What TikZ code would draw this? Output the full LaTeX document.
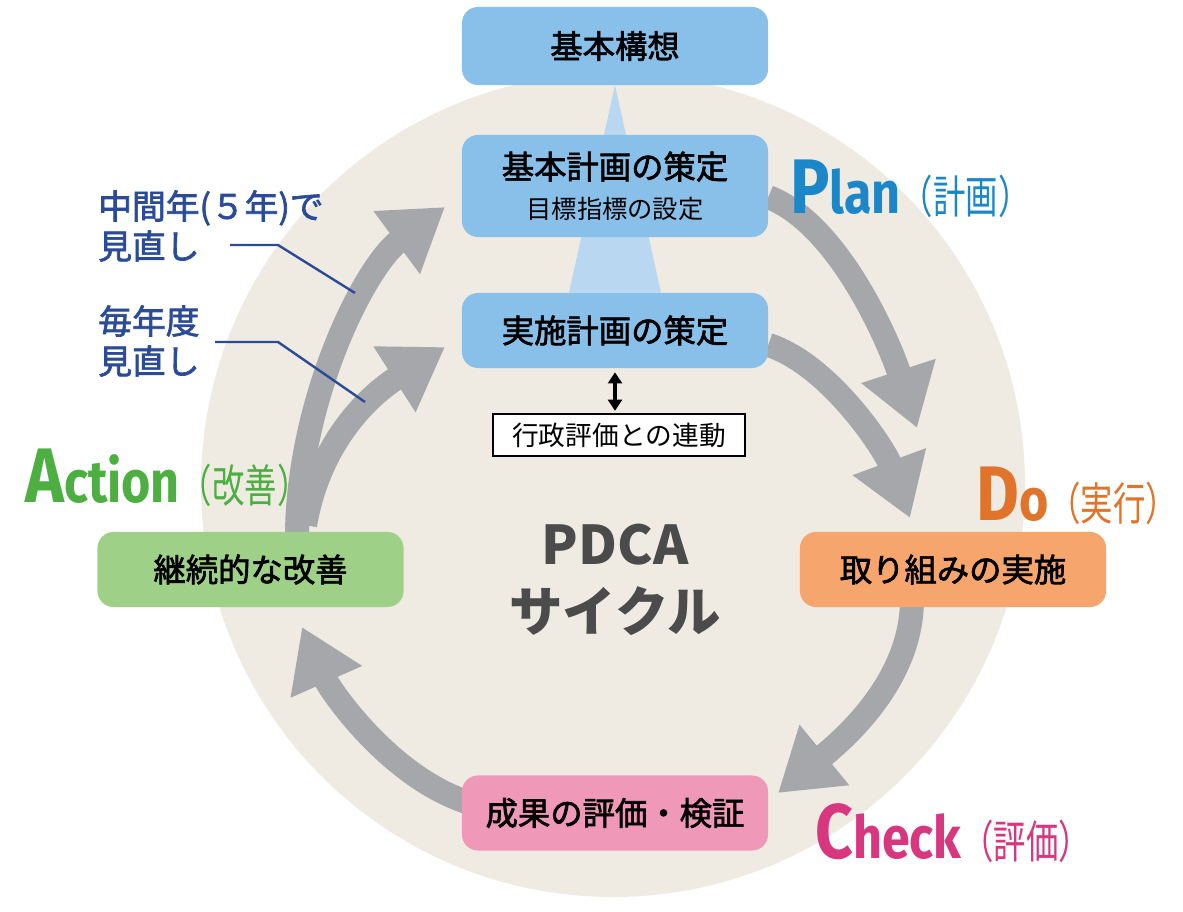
\documentclass[tikz,border=0pt]{standalone}
\usepackage{fontspec}
\usepackage{graphicx}
\setmainfont{Noto Sans CJK JP}
\newfontfamily\jpmed{Noto Sans CJK JP}[FakeBold=2]
\newfontfamily\firafont{Fira Sans}
\usetikzlibrary{arrows.meta}
\pgfdeclarelayer{bglayer}
\pgfdeclarelayer{edgelayer}
\pgfdeclarelayer{nodelayer}
\pgfsetlayers{bglayer,edgelayer,nodelayer,main}
\definecolor{bgbeige}{HTML}{EFEBE2}
\definecolor{boxblue}{HTML}{88C0EA}
\definecolor{paleblue}{HTML}{B9D7F1}
\definecolor{arrowgray}{HTML}{A5A7AA}
\definecolor{boxgreen}{HTML}{9FD088}
\definecolor{boxorange}{HTML}{F6A56C}
\definecolor{boxpink}{HTML}{F098B8}
\definecolor{plancol}{HTML}{1B87C9}
\definecolor{docol}{HTML}{E0742A}
\definecolor{checkcol}{HTML}{D8367F}
\definecolor{actcol}{HTML}{4DAE42}
\definecolor{notecol}{HTML}{2B4B99}
\definecolor{pdcacol}{HTML}{4B4B4B}
\newcommand{\stagelabel}[3]{%
    \scalebox{0.85}[1]{\firafont\bfseries\fontsize{55}{55}\selectfont #1\fontsize{42}{42}\selectfont #2}%
    \scalebox{0.72}[1]{\fontsize{32}{32}\selectfont （#3）}}
\tikzset{
    box/.style = {rounded corners=0.4cm, minimum width=7.65cm, minimum height=1.875cm,
        inner sep=0pt, align=center, font=\jpmed\fontsize{23}{28}\selectfont},
    linkbox/.style = {draw=black, line width=0.06cm, fill=white, minimum width=6.3cm,
        minimum height=1.05cm, inner sep=0pt, font=\fontsize{19}{22}\selectfont},
    cycarrow/.style = {draw=arrowgray, line width=0.6cm,
        -{Triangle[width=1.85cm,length=1.5cm]}},
    linkarrow/.style = {line width=0.1cm, shorten <=0.1cm, shorten >=0.05cm,
        {Triangle[width=0.35cm,length=0.28cm]}-{Triangle[width=0.35cm,length=0.28cm]}},
    note/.style = {anchor=west, align=left, inner sep=0pt, text=notecol,
        font=\jpmed\fontsize{24}{28.5}\selectfont},
    leader/.style = {draw=notecol, line width=0.06cm},
    stage/.style = {anchor=base west, inner sep=0pt}
}

\begin{document}
\begin{tikzpicture}[x=0.025cm,y=-0.025cm]
    \useasboundingbox (0,0) rectangle (1183,912);
    \begin{pgfonlayer}{nodelayer}
        \node [box, fill=boxblue, minimum height=1.95cm] (kousou) at (615,46) {基本構想};
        \node [box, fill=boxblue, minimum height=2.55cm] (kihon) at (615,186)
            {基本計画の策定\\[0pt]{\normalfont\fontsize{18}{22}\selectfont 目標指標の設定}};
        \node [box, fill=boxblue] (jisshi) at (615,330.5) {実施計画の策定};
        \node [linkbox] (renkei) at (619,435) {行政評価との連動};
        \node [box, fill=boxgreen] (kaizen) at (250.5,569.5) {継続的な改善};
        \node [box, fill=boxorange] (torikumi) at (953,569.5) {取り組みの実施};
        \node [box, fill=boxpink] (hyouka) at (615,813) {成果の評価・検証};
    \end{pgfonlayer}
    \coordinate (plantip) at (917,428);
    \coordinate (dotip) at (910,518);
    \coordinate (checktip) at (778,793);
    \coordinate (acttip) at (302,627);
    \coordinate (midtip) at (445,207);
    \coordinate (yeartip) at (445,347);
    \coordinate (branch) at (305,525);
    \begin{pgfonlayer}{edgelayer}
        \draw [cycarrow] ([yshift=-0.275cm]kihon.east) .. controls (840,225) and (890,345) .. (plantip);
        \draw [cycarrow] ([yshift=-0.36cm]jisshi.east) .. controls (830,365) and (885,450) .. (dotip);
        \draw [cycarrow] ([xshift=-1.025cm,yshift=0.2cm]torikumi.south) .. controls (912,680) and (845,738) .. (checktip);
        \draw [cycarrow] ([xshift=0.2cm,yshift=0.25cm]hyouka.west) .. controls (390,778) and (330,690) .. (acttip);
        \draw [cycarrow] ([xshift=1.16cm,yshift=-0.2cm]kaizen.north) .. controls (297,400) and (365,266) .. (midtip);
        \draw [cycarrow] (branch) .. controls (320,440) and (370,395) .. (yeartip);
        \draw [linkarrow] (jisshi.south) -- (jisshi.south |- renkei.north);
    \end{pgfonlayer}
    \begin{pgfonlayer}{bglayer}
        \fill [bgbeige] (613,485) circle (412);
        \fill [paleblue] (kousou.south) -- ([xshift=1.15cm]jisshi.north) -- ([xshift=-1.15cm]jisshi.north) -- cycle;
    \end{pgfonlayer}
    % PDCA in the middle
    \node [align=center, inner sep=0pt, text=pdcacol, font=\bfseries\fontsize{38}{48}\selectfont] (cycle) at (615,580) {PDCA\\サイクル};
    % stage names
    \node [stage, text=plancol] (plan) at (790,214) {\stagelabel{P}{lan}{計画}};
    \node [stage, text=docol] (do) at (976,520) {\stagelabel{D}{o}{実行}};
    \node [stage, text=checkcol] (check) at (815,858) {\stagelabel{C}{heck}{評価}};
    \node [stage, text=actcol] (act) at (25,502) {\stagelabel{A}{ction}{改善}};
    % review notes
    \node [note] (midnote) at (98,226) {中間年(５年)で\\見直し};
    \node [note] (yearnote) at (98,341) {毎年度\\見直し};
    \coordinate (mida) at (230,245);
    \coordinate (midb) at (278,245);
    \coordinate (midc) at (355,293);
    \coordinate (yeara) at (215,342);
    \coordinate (yearb) at (278,342);
    \coordinate (yearc) at (365,402);
    \draw [leader] (mida) -- (midb) -- (midc);
    \draw [leader] (yeara) -- (yearb) -- (yearc);
\end{tikzpicture}
\end{document}
